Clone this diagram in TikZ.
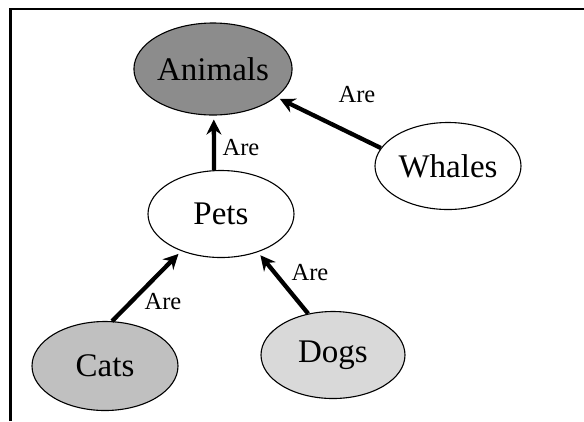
\documentclass[tikz,border=0pt]{standalone}
\usepackage{fontspec}
\setmainfont{Liberation Serif}
\usepackage{tikz}
\usetikzlibrary{arrows.meta,shapes.geometric}
\definecolor{animalGray}{HTML}{8C8C8C}
\definecolor{catGray}{HTML}{C0C0C0}
\definecolor{dogGray}{HTML}{D9D9D9}

\begin{document}
\begin{tikzpicture}[x=1bp, y=-1bp,
  concept/.style={ellipse, draw=black, line width=1.1bp, fill=white,
    minimum width=146bp, minimum height=87bp, inner sep=0pt,
    font=\fontsize{33bp}{38bp}\selectfont},
  rel/.style={font=\fontsize{24.5bp}{28bp}\selectfont, inner sep=0pt},
  conn/.style={-{Stealth[length=15bp,width=15bp,inset=5bp]}, line width=4.3bp,
    shorten >=4bp},
]
\useasboundingbox (0,0) rectangle (584,421);

% === frame ===
\draw[line width=2.2bp] (10.5,421) -- (10.5,9) -- (584,9);

% === concepts ===
\node[concept, fill=animalGray, minimum width=140bp, minimum height=92bp] (animals) at (213,69) {Animals};
\node[concept] (whales) at (448,166) {Whales};
\node[concept] (pets) at (221,214) {Pets};
\node[concept, fill=catGray, minimum height=89bp] (cats) at (105,366) {Cats};
\node[concept, fill=dogGray, minimum width=144bp] (dogs) at (333,355) {Dogs};

% === relations ===
\draw[conn] (pets.99) -- (animals.271);
\draw[conn] (whales.165) -- (animals.336);
\draw[conn] (cats.81) -- (pets.223);
\draw[conn] (dogs.121) -- (pets.314);

\node[rel] (are-pets) at (241,148) {Are};
\node[rel] (are-whales) at (357,95) {Are};
\node[rel] (are-cats) at (163,302) {Are};
\node[rel] (are-dogs) at (310,273) {Are};

\end{tikzpicture}
\end{document}
